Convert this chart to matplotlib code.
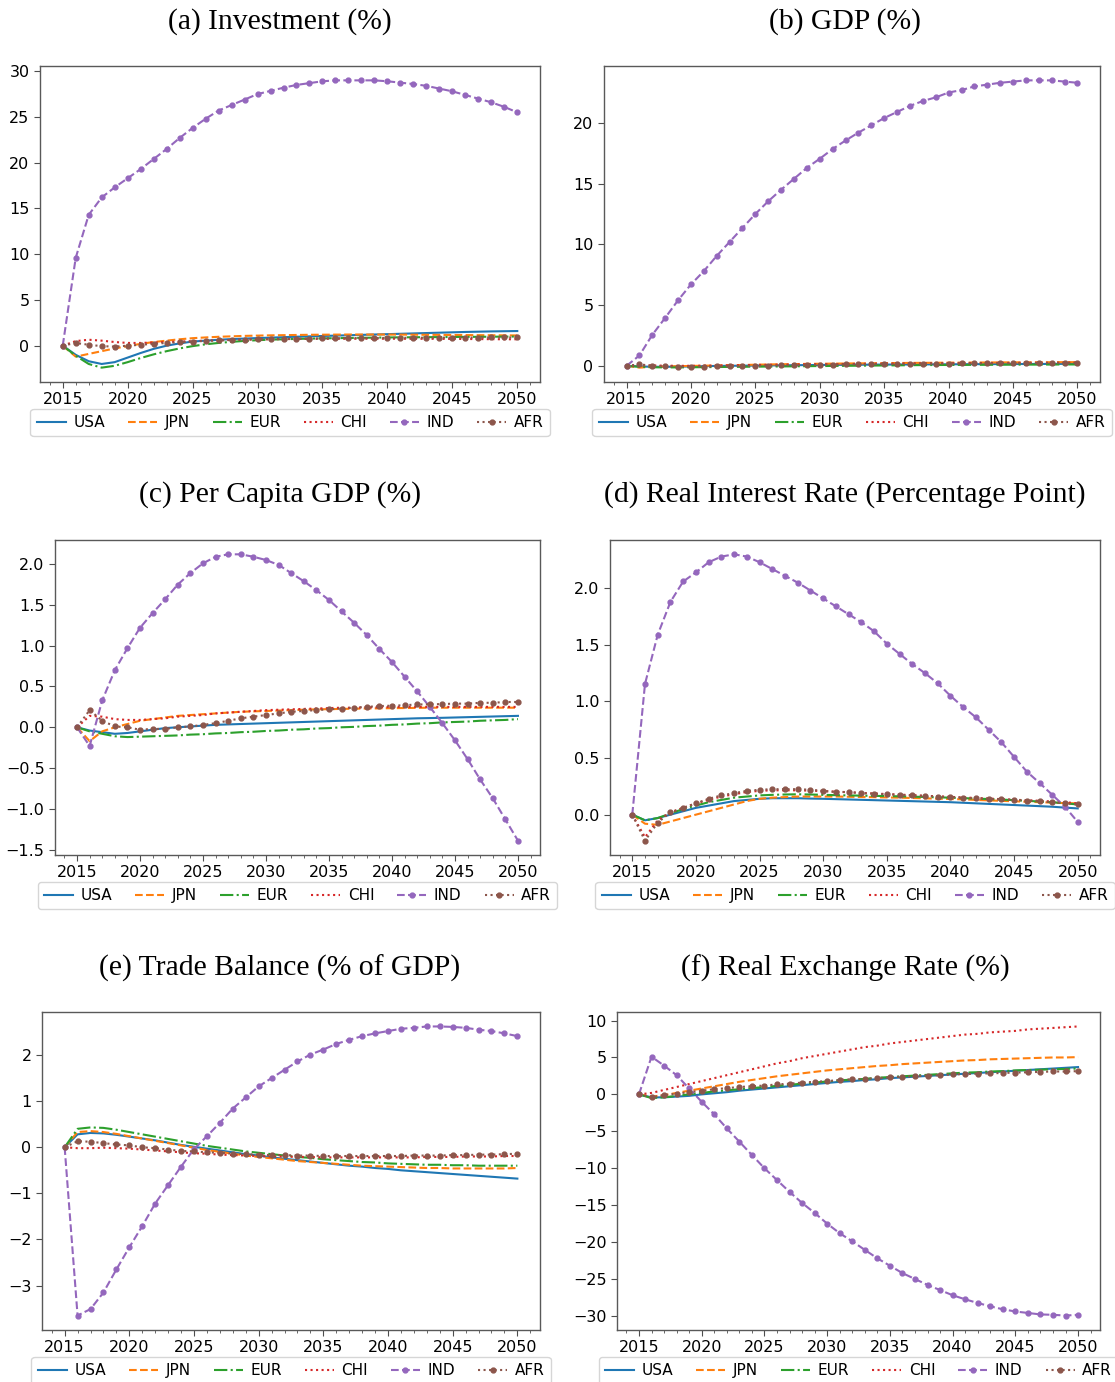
import matplotlib
matplotlib.use("Agg")
import matplotlib.pyplot as plt
from matplotlib.ticker import MultipleLocator

years = list(range(2015, 2051))
regions = ["USA", "JPN", "EUR", "CHI", "IND", "AFR"]
titles = ["(a) Investment (%)", "(b) GDP (%)",
          "(c) Per Capita GDP (%)", "(d) Real Interest Rate (Percentage Point)",
          "(e) Trade Balance (% of GDP)", "(f) Real Exchange Rate (%)"]

# (a) Investment
inv_usa = [0, -1.0, -1.7, -2.0, -1.8, -1.3, -0.8, -0.35, 0.0, 0.25, 0.45, 0.55, 0.65, 0.72, 0.78, 0.83, 0.88, 0.93,
           0.98, 1.02, 1.06, 1.1, 1.14, 1.18, 1.22, 1.26, 1.3, 1.34, 1.38, 1.42, 1.46, 1.5, 1.53, 1.56, 1.58, 1.6]
inv_jpn = [0, -1.2, -0.9, -0.6, -0.3, -0.05, 0.2, 0.4, 0.55, 0.7, 0.82, 0.9, 0.97, 1.02, 1.07, 1.1, 1.13, 1.15,
           1.17, 1.19, 1.2, 1.21, 1.22, 1.22, 1.22, 1.22, 1.21, 1.2, 1.19, 1.18, 1.17, 1.16, 1.15, 1.14, 1.13, 1.12]
inv_eur = [0, -1.1, -2.0, -2.4, -2.2, -1.8, -1.35, -0.95, -0.6, -0.3, -0.05, 0.15, 0.3, 0.42, 0.52, 0.6, 0.66, 0.7,
           0.74, 0.77, 0.8, 0.82, 0.84, 0.86, 0.88, 0.9, 0.91, 0.92, 0.93, 0.94, 0.95, 0.96, 0.97, 0.98, 0.99, 1.0]
inv_chi = [0, 0.5, 0.65, 0.55, 0.4, 0.3, 0.3, 0.35, 0.4, 0.45, 0.5, 0.55, 0.6, 0.63, 0.66, 0.68, 0.7, 0.72,
           0.73, 0.74, 0.75, 0.75, 0.76, 0.76, 0.76, 0.76, 0.76, 0.75, 0.75, 0.74, 0.74, 0.73, 0.72, 0.71, 0.7, 0.7]
inv_ind = [0, 9.6, 14.3, 16.2, 17.3, 18.3, 19.3, 20.4, 21.5, 22.7, 23.8, 24.8, 25.7, 26.3, 26.9, 27.5, 27.85, 28.2,
           28.5, 28.7, 28.9, 29.0, 29.0, 29.0, 29.0, 28.9, 28.75, 28.6, 28.4, 28.1, 27.8, 27.4, 27.0, 26.6, 26.1, 25.5]
inv_afr = [0, 0.3, 0.1, -0.05, -0.1, 0.0, 0.1, 0.2, 0.3, 0.38, 0.45, 0.52, 0.57, 0.62, 0.66, 0.7, 0.72, 0.74,
           0.76, 0.78, 0.8, 0.81, 0.82, 0.83, 0.84, 0.85, 0.86, 0.87, 0.87, 0.88, 0.88, 0.89, 0.89, 0.9, 0.9, 0.9]

# (b) GDP
gdp_usa = [0, -0.05, -0.08, -0.08, -0.07, -0.05, -0.03, -0.01, 0.0, 0.01, 0.02, 0.03, 0.04, 0.05, 0.06, 0.07, 0.075, 0.08,
           0.09, 0.095, 0.1, 0.105, 0.11, 0.115, 0.12, 0.125, 0.13, 0.135, 0.14, 0.14, 0.145, 0.15, 0.15, 0.155, 0.16, 0.16]
gdp_jpn = [0, -0.15, -0.08, -0.05, -0.03, -0.01, 0.01, 0.03, 0.05, 0.07, 0.09, 0.11, 0.13, 0.14, 0.16, 0.17, 0.18, 0.19,
           0.2, 0.21, 0.22, 0.23, 0.24, 0.245, 0.25, 0.26, 0.265, 0.27, 0.275, 0.28, 0.285, 0.29, 0.29, 0.295, 0.3, 0.3]
gdp_eur = [0, -0.08, -0.12, -0.13, -0.13, -0.12, -0.11, -0.1, -0.09, -0.08, -0.07, -0.06, -0.05, -0.04, -0.03, -0.02, -0.01, 0.0,
           0.01, 0.02, 0.03, 0.04, 0.05, 0.06, 0.065, 0.07, 0.075, 0.08, 0.085, 0.09, 0.095, 0.1, 0.1, 0.105, 0.11, 0.11]
gdp_chi = [0, 0.05, 0.03, 0.01, 0.0, 0.0, 0.01, 0.02, 0.04, 0.05, 0.07, 0.08, 0.1, 0.11, 0.12, 0.13, 0.14, 0.15,
           0.16, 0.17, 0.18, 0.19, 0.2, 0.2, 0.21, 0.22, 0.22, 0.23, 0.23, 0.24, 0.24, 0.25, 0.25, 0.25, 0.26, 0.26]
gdp_ind = [0, 0.85, 2.55, 3.95, 5.4, 6.7, 7.8, 9.05, 10.2, 11.35, 12.5, 13.55, 14.5, 15.4, 16.3, 17.05, 17.85, 18.55,
           19.2, 19.8, 20.4, 20.9, 21.4, 21.8, 22.1, 22.5, 22.7, 23.0, 23.15, 23.3, 23.4, 23.5, 23.5, 23.5, 23.4, 23.3]
gdp_afr = [0, 0.12, 0.0, -0.03, -0.06, -0.07, -0.06, -0.05, -0.03, -0.01, 0.0, 0.02, 0.04, 0.06, 0.07, 0.09, 0.1, 0.12,
           0.13, 0.14, 0.15, 0.16, 0.17, 0.18, 0.19, 0.19, 0.2, 0.21, 0.21, 0.22, 0.22, 0.23, 0.23, 0.24, 0.24, 0.25]

# (c) Per capita GDP
pc_usa = [0, -0.04, -0.06, -0.08, -0.07, -0.05, -0.03, -0.01, 0.0, 0.01, 0.02, 0.03, 0.035, 0.04, 0.045, 0.05, 0.055, 0.06,
          0.065, 0.07, 0.075, 0.08, 0.085, 0.09, 0.095, 0.1, 0.105, 0.11, 0.113, 0.116, 0.12, 0.124, 0.128, 0.132, 0.136, 0.14]
pc_jpn = [0, -0.17, -0.05, 0.0, 0.04, 0.08, 0.1, 0.12, 0.14, 0.15, 0.16, 0.17, 0.18, 0.19, 0.195, 0.2, 0.205, 0.21,
          0.215, 0.22, 0.222, 0.225, 0.228, 0.23, 0.232, 0.234, 0.236, 0.238, 0.24, 0.24, 0.24, 0.24, 0.24, 0.24, 0.24, 0.24]
pc_eur = [0, -0.05, -0.08, -0.11, -0.12, -0.115, -0.11, -0.105, -0.1, -0.09, -0.085, -0.075, -0.07, -0.06, -0.055, -0.045, -0.04, -0.03,
          -0.025, -0.015, -0.01, 0.0, 0.005, 0.015, 0.02, 0.03, 0.035, 0.045, 0.05, 0.06, 0.065, 0.07, 0.08, 0.085, 0.09, 0.1]
pc_chi = [0, 0.14, 0.13, 0.1, 0.09, 0.09, 0.1, 0.11, 0.13, 0.14, 0.15, 0.17, 0.18, 0.19, 0.2, 0.21, 0.215, 0.22,
          0.225, 0.23, 0.235, 0.24, 0.24, 0.245, 0.245, 0.25, 0.25, 0.25, 0.25, 0.25, 0.25, 0.25, 0.25, 0.25, 0.25, 0.25]
pc_ind = [0, -0.23, 0.33, 0.7, 0.97, 1.22, 1.4, 1.57, 1.75, 1.89, 2.01, 2.09, 2.12, 2.12, 2.09, 2.05, 1.99, 1.89,
          1.79, 1.68, 1.56, 1.42, 1.28, 1.13, 0.96, 0.8, 0.62, 0.44, 0.25, 0.05, -0.16, -0.39, -0.64, -0.87, -1.13, -1.39]
pc_afr = [0, 0.21, 0.08, 0.01, 0.0, -0.03, -0.02, -0.02, 0.0, 0.01, 0.03, 0.05, 0.08, 0.11, 0.13, 0.15, 0.17, 0.19,
          0.2, 0.21, 0.22, 0.23, 0.24, 0.25, 0.26, 0.265, 0.27, 0.28, 0.28, 0.285, 0.29, 0.29, 0.3, 0.3, 0.31, 0.31]

# (d) Real interest rate
ir_usa = [0, -0.05, -0.03, 0.0, 0.03, 0.06, 0.08, 0.1, 0.12, 0.13, 0.14, 0.145, 0.145, 0.145, 0.142, 0.14, 0.137, 0.134,
          0.131, 0.128, 0.125, 0.122, 0.119, 0.116, 0.113, 0.11, 0.105, 0.1, 0.095, 0.09, 0.085, 0.08, 0.075, 0.07, 0.062, 0.055]
ir_jpn = [0, -0.08, -0.09, -0.06, -0.03, 0.0, 0.03, 0.06, 0.09, 0.12, 0.14, 0.15, 0.155, 0.16, 0.16, 0.16, 0.16, 0.158,
          0.156, 0.154, 0.152, 0.15, 0.147, 0.144, 0.141, 0.138, 0.135, 0.13, 0.126, 0.122, 0.118, 0.114, 0.11, 0.106, 0.102, 0.1]
ir_eur = [0, -0.05, -0.03, 0.01, 0.05, 0.08, 0.11, 0.13, 0.15, 0.16, 0.17, 0.175, 0.178, 0.18, 0.178, 0.175, 0.172, 0.17,
          0.168, 0.166, 0.164, 0.162, 0.159, 0.156, 0.153, 0.15, 0.146, 0.142, 0.138, 0.133, 0.128, 0.122, 0.116, 0.11, 0.1, 0.09]
ir_chi = [0, -0.2, -0.05, 0.02, 0.06, 0.1, 0.13, 0.16, 0.18, 0.2, 0.21, 0.215, 0.215, 0.215, 0.212, 0.208, 0.203, 0.198,
          0.192, 0.187, 0.182, 0.177, 0.172, 0.167, 0.162, 0.157, 0.152, 0.147, 0.142, 0.137, 0.132, 0.127, 0.122, 0.116, 0.11, 0.1]
ir_ind = [0, 1.155, 1.59, 1.88, 2.06, 2.14, 2.23, 2.28, 2.3, 2.28, 2.23, 2.17, 2.11, 2.05, 1.98, 1.91, 1.84, 1.77,
          1.7, 1.62, 1.51, 1.42, 1.33, 1.25, 1.16, 1.05, 0.95, 0.86, 0.75, 0.64, 0.51, 0.38, 0.28, 0.175, 0.07, -0.065]
ir_afr = [0, -0.23, -0.07, 0.02, 0.06, 0.1, 0.14, 0.17, 0.19, 0.21, 0.22, 0.225, 0.225, 0.225, 0.22, 0.21, 0.2, 0.2,
          0.19, 0.185, 0.18, 0.175, 0.17, 0.165, 0.16, 0.155, 0.15, 0.145, 0.14, 0.135, 0.13, 0.125, 0.12, 0.11, 0.1, 0.09]

# (e) Trade balance
tb_usa = [0, 0.28, 0.31, 0.3, 0.27, 0.23, 0.19, 0.15, 0.1, 0.05, 0.01, -0.03, -0.07, -0.11, -0.15, -0.18, -0.22, -0.25,
          -0.28, -0.31, -0.34, -0.37, -0.4, -0.42, -0.45, -0.47, -0.5, -0.52, -0.54, -0.56, -0.58, -0.6, -0.62, -0.64, -0.66, -0.68]
tb_jpn = [0, 0.33, 0.35, 0.33, 0.29, 0.24, 0.19, 0.14, 0.09, 0.04, -0.01, -0.06, -0.1, -0.14, -0.18, -0.21, -0.24, -0.27,
          -0.3, -0.32, -0.34, -0.36, -0.38, -0.4, -0.41, -0.42, -0.43, -0.44, -0.45, -0.45, -0.46, -0.46, -0.46, -0.46, -0.46, -0.45]
tb_eur = [0, 0.4, 0.43, 0.42, 0.38, 0.33, 0.28, 0.23, 0.18, 0.13, 0.08, 0.03, -0.01, -0.05, -0.09, -0.12, -0.15, -0.18,
          -0.21, -0.23, -0.26, -0.28, -0.3, -0.32, -0.33, -0.35, -0.36, -0.37, -0.38, -0.38, -0.39, -0.39, -0.4, -0.4, -0.4, -0.4]
tb_chi = [0, -0.02, -0.02, -0.01, -0.02, -0.03, -0.05, -0.07, -0.09, -0.11, -0.13, -0.14, -0.16, -0.17, -0.18, -0.19, -0.2, -0.2,
          -0.21, -0.21, -0.22, -0.22, -0.22, -0.22, -0.22, -0.22, -0.22, -0.22, -0.21, -0.21, -0.21, -0.2, -0.2, -0.2, -0.19, -0.19]
tb_ind = [0, -3.65, -3.51, -3.15, -2.65, -2.17, -1.71, -1.22, -0.82, -0.42, -0.04, 0.24, 0.53, 0.84, 1.08, 1.32, 1.5, 1.68,
          1.86, 2.01, 2.12, 2.24, 2.33, 2.41, 2.47, 2.52, 2.57, 2.59, 2.62, 2.62, 2.61, 2.59, 2.55, 2.52, 2.47, 2.41]
tb_afr = [0, 0.13, 0.12, 0.09, 0.06, 0.04, 0.0, -0.02, -0.05, -0.08, -0.09, -0.11, -0.12, -0.14, -0.15, -0.16, -0.17, -0.17,
          -0.18, -0.18, -0.19, -0.19, -0.19, -0.19, -0.19, -0.19, -0.19, -0.18, -0.18, -0.18, -0.17, -0.17, -0.16, -0.16, -0.15, -0.14]

# (f) Real exchange rate
rer_usa = [0, -0.4, -0.4, -0.3, -0.2, 0.0, 0.15, 0.3, 0.5, 0.65, 0.8, 0.95, 1.1, 1.25, 1.4, 1.55, 1.7, 1.8,
           1.95, 2.05, 2.2, 2.3, 2.4, 2.5, 2.6, 2.7, 2.8, 2.9, 3.0, 3.1, 3.2, 3.3, 3.4, 3.5, 3.6, 3.7]
rer_jpn = [0, -0.3, -0.1, 0.2, 0.5, 0.8, 1.1, 1.4, 1.7, 1.95, 2.2, 2.45, 2.65, 2.85, 3.05, 3.25, 3.4, 3.55,
           3.7, 3.85, 3.95, 4.1, 4.2, 4.3, 4.4, 4.5, 4.6, 4.65, 4.75, 4.8, 4.85, 4.9, 4.95, 5.0, 5.0, 5.05]
rer_eur = [0, -0.5, -0.4, -0.2, 0.0, 0.2, 0.4, 0.55, 0.7, 0.85, 1.0, 1.15, 1.3, 1.45, 1.6, 1.75, 1.9, 2.0,
           2.1, 2.25, 2.35, 2.45, 2.55, 2.65, 2.75, 2.85, 2.95, 3.0, 3.1, 3.15, 3.25, 3.3, 3.35, 3.4, 3.45, 3.5]
rer_chi = [0, 0.2, 0.6, 1.0, 1.4, 1.8, 2.2, 2.6, 3.0, 3.4, 3.8, 4.2, 4.5, 4.9, 5.2, 5.5, 5.8, 6.1,
           6.4, 6.6, 6.9, 7.1, 7.3, 7.5, 7.7, 7.9, 8.1, 8.2, 8.4, 8.5, 8.6, 8.8, 8.9, 9.0, 9.1, 9.2]
rer_ind = [0, 5.1, 3.9, 2.6, 0.8, -1.0, -2.7, -4.6, -6.4, -8.2, -10.0, -11.6, -13.2, -14.7, -16.05, -17.5, -18.8, -19.9,
           -21.05, -22.2, -23.2, -24.2, -25.0, -25.8, -26.5, -27.2, -27.75, -28.25, -28.7, -29.1, -29.4, -29.6, -29.8, -29.85, -29.95, -29.85]
rer_afr = [0, -0.4, -0.1, 0.1, 0.3, 0.5, 0.7, 0.85, 1.0, 1.1, 1.2, 1.35, 1.45, 1.6, 1.7, 1.8, 1.95, 2.05,
           2.1, 2.2, 2.3, 2.4, 2.45, 2.55, 2.6, 2.7, 2.75, 2.8, 2.85, 2.9, 2.95, 3.0, 3.05, 3.1, 3.1, 3.15]

panels = [
    [inv_usa, inv_jpn, inv_eur, inv_chi, inv_ind, inv_afr],
    [gdp_usa, gdp_jpn, gdp_eur, gdp_chi, gdp_ind, gdp_afr],
    [pc_usa, pc_jpn, pc_eur, pc_chi, pc_ind, pc_afr],
    [ir_usa, ir_jpn, ir_eur, ir_chi, ir_ind, ir_afr],
    [tb_usa, tb_jpn, tb_eur, tb_chi, tb_ind, tb_afr],
    [rer_usa, rer_jpn, rer_eur, rer_chi, rer_ind, rer_afr],
]

colors = ["#1f77b4", "#ff7f0e", "#2ca02c", "#d62728", "#9467bd", "#8c564b"]
styles = ["-", "--", "-.", ":", "--", ":"]
markers = [None, None, None, None, ".", "."]

W, H = 1115, 1382
fig = plt.figure(figsize=(W / 100, H / 100), dpi=100)

# axes boxes in pixels: left, right, top, bottom
boxes = [
    (40, 540, 66, 382), (604, 1100, 66, 382),
    (55, 540, 540, 855), (610, 1100, 540, 855),
    (42, 540, 1012, 1330), (617, 1100, 1012, 1330),
]
title_pos = [(280, 22), (845, 22), (280, 495), (845, 495), (280, 968), (845, 968)]

for i, (series, box) in enumerate(zip(panels, boxes)):
    l, r, t, b = box
    ax = fig.add_axes([l / W, 1 - b / H, (r - l) / W, (b - t) / H])
    for name, vals, c, ls, mk in zip(regions, series, colors, styles, markers):
        ax.plot(years, vals, color=c, linestyle=ls, marker=mk, markersize=7,
                linewidth=1.5, label=name)
    ax.xaxis.set_major_locator(MultipleLocator(5))
    ax.xaxis.set_minor_locator(MultipleLocator(1))
    ax.tick_params(axis="both", which="major", labelsize=11.5, length=4, color="0.3")
    ax.tick_params(axis="x", which="minor", length=2, color="0.3")
    for sp in ax.spines.values():
        sp.set_color("0.35")
        sp.set_linewidth(1.0)
    ax.legend(loc="upper center", bbox_to_anchor=(0.5, -0.085), ncol=6,
              fontsize=11, borderaxespad=0, handlelength=1.9,
              handletextpad=0.5, columnspacing=1.5)
    tx, ty = title_pos[i]
    fig.text(tx / W, 1 - ty / H, titles[i], ha="center", va="center",
             fontsize=21.3, family="Liberation Serif")

fig.savefig("out.png", dpi=100)
